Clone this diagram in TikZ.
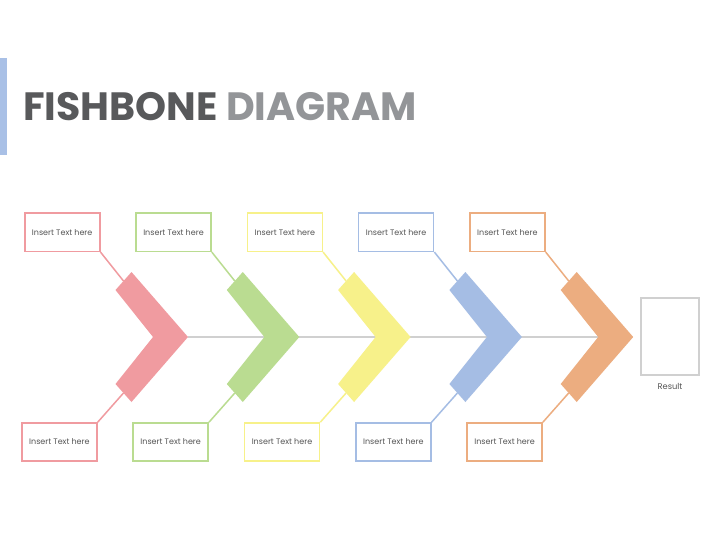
\documentclass[tikz,border=0pt]{standalone}
\usepackage{fontspec}
\setmainfont{Poppins}
\definecolor{cpink}{HTML}{F09BA0}
\definecolor{cgreen}{HTML}{BADC91}
\definecolor{cyellow}{HTML}{F7F18A}
\definecolor{cblue}{HTML}{A5BDE4}
\definecolor{corange}{HTML}{ECAD80}
\definecolor{spinegray}{HTML}{D0D0D0}
\definecolor{barblue}{HTML}{A9C0E6}
\definecolor{titledark}{HTML}{58595B}
\definecolor{titlelight}{HTML}{939598}
\definecolor{textgray}{HTML}{555555}
\tikzset{
  textbox/.style={draw=#1, line width=1.6pt, fill=white, text=textgray,
    font=\fontsize{8}{9}\selectfont, minimum width=75pt, minimum height=38pt, inner sep=0pt},
  conn/.style={draw=#1, line width=1.5pt},
  spine/.style={draw=spinegray, line width=2.8pt},
  resbox/.style={draw=spinegray, line width=2.4pt, fill=white, minimum width=57.5pt, minimum height=76.5pt, inner sep=0pt},
  reslabel/.style={text=textgray, font=\fontsize{8.3}{9}\selectfont, inner sep=0pt}
}
\begin{document}
\begin{tikzpicture}[x=1pt,y=-1pt]
\useasboundingbox[fill=white] (0,0) rectangle (720,556);
\fill[barblue] (0,58) rectangle (7,155);
\node[anchor=base west, inner sep=0pt, font=\bfseries\fontsize{39.5}{41}\selectfont] (title) at (23,121)
  {\textcolor{titledark}{FISHBONE} \textcolor{titlelight}{DIAGRAM}};
% spine
\coordinate (spinestart) at (188,337);
\coordinate (spineend) at (600,337);
\draw[spine] (spinestart) -- (spineend);
\foreach \c [count=\i] in {cpink,cgreen,cyellow,cblue,corange} {
  \pgfmathsetmacro\tx{188+(\i-1)*111.3}
  \fill[\c] (\tx,337) -- (\tx-56.5,272) -- (\tx-72.5,290) -- (\tx-35,337)
     -- (\tx-72.5,384) -- (\tx-56.5,402) -- cycle;
  \coordinate (tarm\i) at (\tx-64.5,281);
  \coordinate (barm\i) at (\tx-64.5,393);
  \node[textbox=\c] (top\i) at (\tx-125.8,232.3) {Insert Text here};
  \node[textbox=\c] (bot\i) at (\tx-128.6,442) {Insert Text here};
  \draw[conn=\c] (top\i.south east) -- (tarm\i);
  \draw[conn=\c] (bot\i.north east) -- (barm\i);
}
\node[resbox] (result) at (670,336.5) {};
\node[reslabel] (resultlabel) at (670,386) {Result};
\end{tikzpicture}
\end{document}
